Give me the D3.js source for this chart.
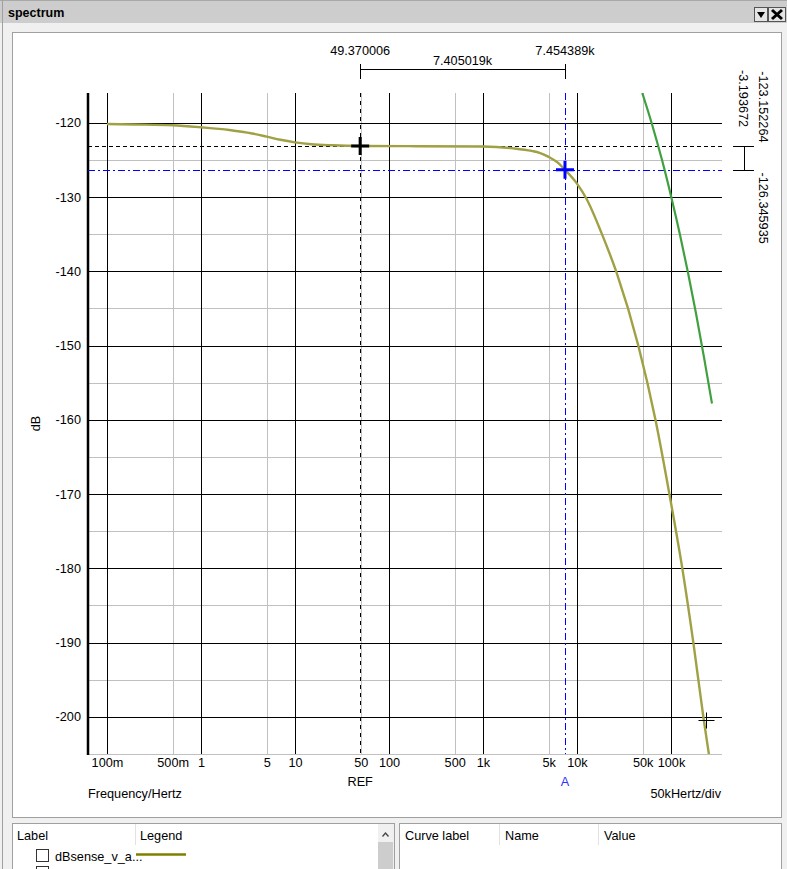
<!DOCTYPE html>
<html>
<head>
<meta charset="utf-8">
<script src="https://cdn.jsdelivr.net/npm/d3@7"></script>
<style>
  html, body { margin: 0; padding: 0; background: #f0f0f0; overflow: hidden; }
  svg { display: block; font-family: "Liberation Sans", Arial, sans-serif; }
  .tick text { font-family: "Liberation Sans", Arial, sans-serif; }
</style>
</head>
<body>
<svg id="chart" width="787" height="869"></svg>
<script>
// ---------------- data ----------------
const xTickValues = [0.1, 0.5, 1, 5, 10, 50, 100, 500, 1000, 5000, 10000, 50000, 100000];
const xTickLabels = ["100m", "500m", "1", "5", "10", "50", "100", "500", "1k", "5k", "10k", "50k", "100k"];
const xMajorGrid = [0.1, 1, 10, 100, 1000, 10000, 100000];
const xMinorGrid = [0.5, 5, 50, 500, 5000, 50000];
const yTickValues = [-120, -130, -140, -150, -160, -170, -180, -190, -200];
const yTickLabels = ["-120", "-130", "-140", "-150", "-160", "-170", "-180", "-190", "-200"];
const yMinorGrid = [-125, -135, -145, -155, -165, -175, -185, -195];

// curve 1 : dBsense_v_a... (olive)
const olive_freq = [0.1, 0.2, 0.5, 1, 2, 3.5, 5, 7, 10, 15, 25, 50, 200, 1000, 2100, 3300, 4000, 5000, 6200, 7454.389,
  10000, 12700, 18300, 26400, 44900, 68400, 96200, 132000, 173000, 221000, 255000];
const olive_dB = [-120.18, -120.24, -120.35, -120.62, -120.98, -121.45, -121.88, -122.3, -122.64, -122.9, -123.04, -123.13, -123.16, -123.2, -123.45, -123.8, -124.05, -124.6, -125.35, -126.345935,
  -128.2, -130.3, -134.9, -140.2, -150, -160, -170, -180, -190, -200, -205.3];

// curve 2 : dBsense_v_fi... (green)
const green_freq = [49500, 62800, 80200, 100700, 124700, 151800, 184700, 224600, 273000];
const green_dB = [-116.0, -120.2, -125.0, -130.0, -135.1, -140.2, -145.7, -151.6, -157.8];

// cursors
const refFreq = 49.370006, refDB = -123.152264;
const aFreq = 7454.389, aDB = -126.345935;
const refFreqLabel = "49.370006", aFreqLabel = "7.454389k", dFreqLabel = "7.405019k";
const refDBLabel = "-123.152264", aDBLabel = "-126.345935", dDBLabel = "-3.193672";
const extraMarker = { f: 233000, dB: -200.4 };

const legendRows = ["dBsense_v_a...", "dBsense_v_fi..."];
const legendColors = ["#808000", "#3aa03a"];

// ---------------- layout ----------------
const svg = d3.select("#chart");
const W = 787, H = 869;
const plotL = 88, plotR = 722, plotT = 93, plotB = 754;

const x = d3.scaleLog().domain([0.0628, 349000]).range([plotL, plotR]);
const y = d3.scaleLinear().domain([-205, -116]).range([plotB, plotT]);
const px = v => Math.round(x(v)) + 0.5;
const py = v => Math.round(y(v)) + 0.5;

// ---------------- window chrome ----------------
svg.append("rect").attr("x", 0).attr("y", 0).attr("width", W).attr("height", H).attr("fill", "#f0f0f0");
svg.append("line").attr("x1", 2.5).attr("x2", 2.5).attr("y1", 0).attr("y2", H).attr("stroke", "#a0a0a0");
svg.append("rect").attr("x", 0).attr("y", 0).attr("width", W).attr("height", 23).attr("fill", "#cdcdcd");
svg.append("line").attr("x1", 0).attr("x2", W).attr("y1", 0.5).attr("y2", 0.5).attr("stroke", "#a8a8a8");
svg.append("line").attr("x1", 2.5).attr("x2", 2.5).attr("y1", 0).attr("y2", 23).attr("stroke", "#a0a0a0");
svg.append("text").attr("x", 8).attr("y", 17).attr("font-size", 12.5).attr("font-weight", "bold").attr("fill", "#000").text("spectrum");
// buttons
svg.append("rect").attr("x", 754.5).attr("y", 7.5).attr("width", 13).attr("height", 14).attr("fill", "#e4e4e4").attr("stroke", "#555");
svg.append("path").attr("d", "M757,12 L765,12 L761,18 Z").attr("fill", "#000");
svg.append("rect").attr("x", 768.5).attr("y", 7.5).attr("width", 17).attr("height", 14).attr("fill", "#e4e4e4").attr("stroke", "#555");
svg.append("path").attr("d", "M772,10 L782,19 M782,10 L772,19").attr("stroke", "#000").attr("stroke-width", 3);

// plot panel
svg.append("rect").attr("x", 12.5).attr("y", 32.5).attr("width", 769).attr("height", 785).attr("fill", "#fff").attr("stroke", "#a0a0a0");

// ---------------- grid ----------------
const g = svg.append("g");
g.selectAll(".vminor").data(xMinorGrid).join("line")
  .attr("x1", px).attr("x2", px).attr("y1", plotT).attr("y2", plotB)
  .attr("stroke", "#c0c0c0").attr("stroke-width", 1);
g.selectAll(".hminor").data(yMinorGrid).join("line")
  .attr("x1", plotL).attr("x2", plotR).attr("y1", py).attr("y2", py)
  .attr("stroke", "#c0c0c0").attr("stroke-width", 1);
g.selectAll(".vmajor").data(xMajorGrid).join("line")
  .attr("x1", px).attr("x2", px).attr("y1", plotT).attr("y2", plotB)
  .attr("stroke", "#000").attr("stroke-width", 1);
g.selectAll(".hmajor").data(yTickValues).join("line")
  .attr("x1", plotL).attr("x2", plotR).attr("y1", py).attr("y2", py)
  .attr("stroke", "#000").attr("stroke-width", 1);
g.append("line").attr("x1", plotL).attr("x2", plotR).attr("y1", plotB + 0.5).attr("y2", plotB + 0.5).attr("stroke", "#c0c0c0");
g.append("line").attr("x1", plotL).attr("x2", plotL).attr("y1", plotT).attr("y2", plotB + 1).attr("stroke", "#000").attr("stroke-width", 2.5);

// ---------------- axes (labels) ----------------
const FS = 12.7;
const xAxis = d3.axisBottom(x).tickValues(xTickValues).tickFormat((d, i) => xTickLabels[i]).tickSize(0).tickPadding(4);
const xa = svg.append("g").attr("transform", `translate(0,${plotB})`).call(xAxis);
xa.select(".domain").remove();
xa.selectAll("text").attr("font-size", FS).attr("fill", "#000");

const yAxis = d3.axisLeft(y).tickValues(yTickValues).tickFormat((d, i) => yTickLabels[i]).tickSize(0).tickPadding(7);
const ya = svg.append("g").attr("transform", `translate(${plotL},0)`).call(yAxis);
ya.select(".domain").remove();
ya.selectAll("text").attr("font-size", FS).attr("fill", "#000");

svg.append("text").attr("transform", `translate(39.5,${(plotT + plotB) / 2}) rotate(-90)`)
  .attr("text-anchor", "middle").attr("font-size", FS).text("dB");
svg.append("text").attr("x", plotL).attr("y", 798).attr("font-size", FS).text("Frequency/Hertz");
svg.append("text").attr("x", plotR - 1).attr("y", 798).attr("text-anchor", "end").attr("font-size", FS).text("50kHertz/div");
svg.append("text").attr("x", x(refFreq)).attr("y", 786).attr("text-anchor", "middle").attr("font-size", FS).text("REF");
svg.append("text").attr("x", x(aFreq)).attr("y", 786).attr("text-anchor", "middle").attr("font-size", FS).attr("fill", "#3030ff").text("A");

// ---------------- cursors ----------------
const cx = svg.append("g");
cx.append("line").attr("x1", px(refFreq)).attr("x2", px(refFreq)).attr("y1", plotT).attr("y2", plotB)
  .attr("stroke", "#000").attr("stroke-dasharray", "4,4");
cx.append("line").attr("x1", plotL).attr("x2", plotR).attr("y1", py(refDB)).attr("y2", py(refDB))
  .attr("stroke", "#000").attr("stroke-dasharray", "4,3");
cx.append("line").attr("x1", px(aFreq)).attr("x2", px(aFreq)).attr("y1", plotT).attr("y2", plotB)
  .attr("stroke", "#0000ff").attr("stroke-dasharray", "7,3,2,3");
cx.append("line").attr("x1", plotL).attr("x2", plotR).attr("y1", py(aDB)).attr("y2", py(aDB))
  .attr("stroke", "#0000ff").attr("stroke-dasharray", "7,3,2,3");

// ---------------- curves ----------------
svg.append("clipPath").attr("id", "clip").append("rect")
  .attr("x", plotL).attr("y", plotT).attr("width", plotR - plotL).attr("height", plotB - plotT);
const line = d3.line().x(d => x(d[0])).y(d => y(d[1])).curve(d3.curveMonotoneX);
const curves = svg.append("g").attr("clip-path", "url(#clip)");
curves.append("path").datum(olive_freq.map((f, i) => [f, olive_dB[i]]))
  .attr("d", line).attr("fill", "none").attr("stroke", "#a0a044").attr("stroke-width", 2.4);
curves.append("path").datum(green_freq.map((f, i) => [f, green_dB[i]]))
  .attr("d", line).attr("fill", "none").attr("stroke", "#40a040").attr("stroke-width", 2.2);

// ---------------- markers ----------------
function cross(cxp, cyp, r, col, w) {
  svg.append("path").attr("d", `M${cxp - r},${cyp} L${cxp + r},${cyp} M${cxp},${cyp - r} L${cxp},${cyp + r}`)
    .attr("stroke", col).attr("stroke-width", w).attr("fill", "none");
}
cross(x(refFreq), y(refDB), 9, "#000", 3);
cross(x(aFreq), y(aDB), 9, "#0000ff", 3);
cross(Math.round(x(extraMarker.f)) + 0.5, Math.round(y(extraMarker.dB)) + 0.5, 8, "#000", 1);

// ---------------- delta annotations ----------------
const xr = px(refFreq), xA = px(aFreq);
svg.append("text").attr("x", x(refFreq)).attr("y", 55).attr("text-anchor", "middle").attr("font-size", FS).text(refFreqLabel);
svg.append("text").attr("x", x(aFreq)).attr("y", 55).attr("text-anchor", "middle").attr("font-size", FS).text(aFreqLabel);
svg.append("text").attr("x", (x(refFreq) + x(aFreq)) / 2).attr("y", 65).attr("text-anchor", "middle").attr("font-size", FS).text(dFreqLabel);
svg.append("path").attr("d", `M${xr},64 L${xr},79 M${xA},64 L${xA},79 M${xr},69.5 L${xA},69.5`)
  .attr("stroke", "#000").attr("fill", "none");

const yr = py(refDB), yA = py(aDB);
svg.append("path").attr("d", `M733,${yr} L754,${yr} M733,${yA} L754,${yA} M744.5,${yr} L744.5,${yA}`)
  .attr("stroke", "#000").attr("fill", "none");
svg.append("text").attr("transform", `translate(759,${yr - 4}) rotate(90)`).attr("text-anchor", "end").attr("font-size", FS).text(refDBLabel);
svg.append("text").attr("transform", `translate(759,${yA + 2}) rotate(90)`).attr("text-anchor", "start").attr("font-size", FS).text(aDBLabel);
svg.append("text").attr("transform", `translate(739,70) rotate(90)`).attr("text-anchor", "start").attr("font-size", FS).text(dDBLabel);

// ---------------- bottom panels ----------------
svg.append("rect").attr("x", 12.5).attr("y", 823.5).attr("width", 382).attr("height", 60).attr("fill", "#fff").attr("stroke", "#a0a0a0");
svg.append("rect").attr("x", 399.5).attr("y", 823.5).attr("width", 382).attr("height", 60).attr("fill", "#fff").attr("stroke", "#a0a0a0");
svg.append("line").attr("x1", 135.5).attr("x2", 135.5).attr("y1", 824).attr("y2", 845).attr("stroke", "#e2e2e2");
svg.append("line").attr("x1", 499.5).attr("x2", 499.5).attr("y1", 824).attr("y2", 845).attr("stroke", "#e2e2e2");
svg.append("line").attr("x1", 598.5).attr("x2", 598.5).attr("y1", 824).attr("y2", 845).attr("stroke", "#e2e2e2");
const hdr = [["Label", 17], ["Legend", 140], ["Curve label", 405], ["Name", 505], ["Value", 604]];
hdr.forEach(h => svg.append("text").attr("x", h[1]).attr("y", 840).attr("font-size", FS).text(h[0]));
// scrollbar
svg.append("rect").attr("x", 378).attr("y", 824).attr("width", 16).attr("height", 50).attr("fill", "#f0f0f0");
svg.append("rect").attr("x", 378).attr("y", 842).attr("width", 15).attr("height", 40).attr("fill", "#cdcdcd");
svg.append("path").attr("d", "M382.5,836.5 L385.5,833 L388.5,836.5").attr("stroke", "#444").attr("stroke-width", 1.3).attr("fill", "none");
// legend rows (second row is partly below the window edge, as in the reference)
legendRows.forEach((name, i) => {
  const ry = 849.5 + i * 17;
  svg.append("rect").attr("x", 36.5).attr("y", ry).attr("width", 12).attr("height", 12).attr("fill", "#fff").attr("stroke", "#333");
  svg.append("text").attr("x", 55).attr("y", ry + 11).attr("font-size", FS).text(name);
  svg.append("line").attr("x1", 136).attr("x2", 186).attr("y1", ry + 5).attr("y2", ry + 5)
    .attr("stroke", legendColors[i]).attr("stroke-width", 2.5);
});
</script>
</body>
</html>
